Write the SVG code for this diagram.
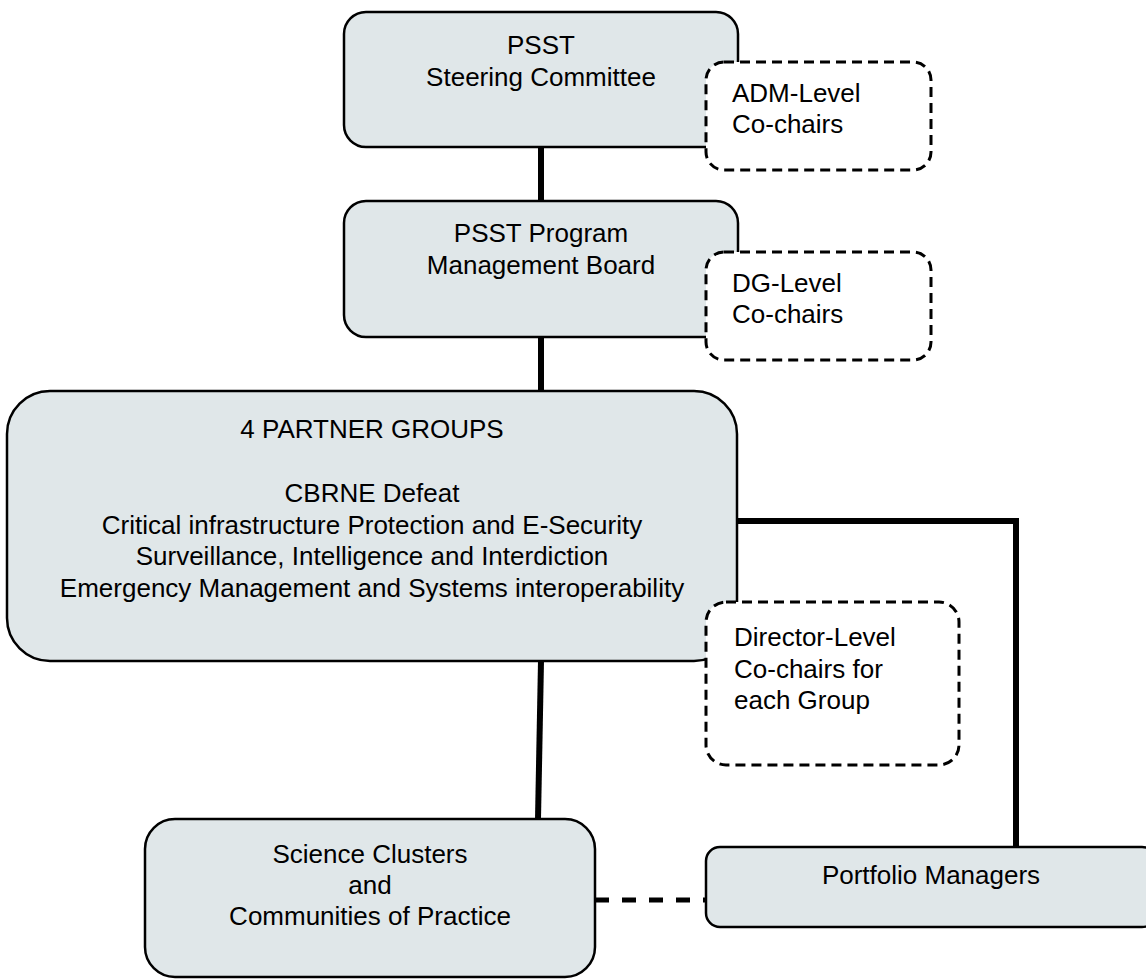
<svg xmlns="http://www.w3.org/2000/svg" width="1146" height="979" viewBox="0 0 1146 979">
<style>
.box{fill:#e0e7e9;stroke:#000;stroke-width:2.5}
.dbox{fill:#fff;stroke:#000;stroke-width:3;stroke-dasharray:10 6}
.t{font-family:"Liberation Sans",Arial,sans-serif;font-size:26px;fill:#000}
.c{text-anchor:middle}
.conn{fill:none;stroke:#000;stroke-width:6}
.dconn{fill:none;stroke:#000;stroke-width:5;stroke-dasharray:14 13}
</style>
<rect width="1146" height="979" fill="#fff"/>
<g id="connectors">
<line class="conn" x1="541" y1="147" x2="541" y2="201"/>
<line class="conn" x1="541" y1="337" x2="541" y2="391"/>
<line class="conn" x1="541" y1="661" x2="538" y2="819"/>
<polyline class="conn" points="737,521 1016,521 1016,846"/>
<line class="dconn" x1="595" y1="900" x2="706" y2="900"/>
</g>
<g id="steering">
<rect class="box" x="344" y="12" width="394" height="135" rx="22"/>
<text class="t c" x="541" y="54">PSST</text>
<text class="t c" x="541" y="86">Steering Committee</text>
</g>
<g id="adm">
<rect class="dbox" x="706" y="62" width="225" height="108" rx="18"/>
<text class="t" x="732" y="102">ADM-Level</text>
<text class="t" x="732" y="133">Co-chairs</text>
</g>
<g id="program">
<rect class="box" x="344" y="201" width="394" height="136" rx="22"/>
<text class="t c" x="541" y="242">PSST Program</text>
<text class="t c" x="541" y="274">Management Board</text>
</g>
<g id="dg">
<rect class="dbox" x="706" y="252" width="225" height="108" rx="18"/>
<text class="t" x="732" y="292">DG-Level</text>
<text class="t" x="732" y="323">Co-chairs</text>
</g>
<g id="partners">
<rect class="box" x="7" y="391" width="730" height="270" rx="43"/>
<text class="t c" x="372" y="438">4 PARTNER GROUPS</text>
<text class="t c" x="372" y="502">CBRNE Defeat</text>
<text class="t c" x="372" y="533.5">Critical infrastructure Protection and E-Security</text>
<text class="t c" x="372" y="565">Surveillance, Intelligence and Interdiction</text>
<text class="t c" x="372" y="596.5">Emergency Management and Systems interoperability</text>
</g>
<g id="director">
<rect class="dbox" x="706" y="602" width="253" height="163" rx="20"/>
<text class="t" x="734" y="646">Director-Level</text>
<text class="t" x="734" y="678">Co-chairs for</text>
<text class="t" x="734" y="709">each Group</text>
</g>
<g id="science">
<rect class="box" x="145" y="819" width="450" height="158" rx="30"/>
<text class="t c" x="370" y="863">Science Clusters</text>
<text class="t c" x="370" y="894">and</text>
<text class="t c" x="370" y="925">Communities of Practice</text>
</g>
<g id="portfolio">
<rect class="box" x="706" y="847" width="450" height="80" rx="14"/>
<text class="t c" x="931" y="884">Portfolio Managers</text>
</g>
</svg>
